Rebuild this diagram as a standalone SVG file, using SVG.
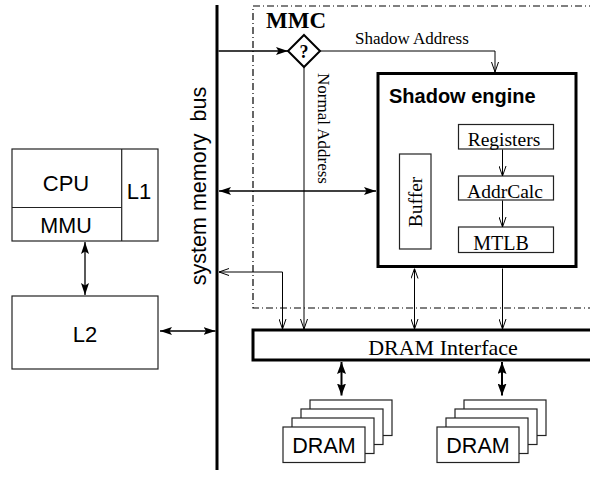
<svg xmlns="http://www.w3.org/2000/svg" width="590" height="477" viewBox="0 0 590 477">
<style>
.sans{font-family:"Liberation Sans",Arial,sans-serif;fill:#000}
.serif{font-family:"Liberation Serif","Times New Roman",serif;fill:#000}
.box{fill:#fff;stroke:#222;stroke-width:1.2}
.thick{fill:#fff;stroke:#000;stroke-width:3}
.thin{fill:none;stroke:#000;stroke-width:1}
.fat{fill:none;stroke:#000;stroke-width:1.3}
</style>
<defs>
<marker id="fa" viewBox="0 0 12 8" refX="12" refY="4" markerWidth="12" markerHeight="8" markerUnits="userSpaceOnUse" orient="auto-start-reverse">
<path d="M0,0 L12,4 L0,8 L2.5,4 z" fill="#000"/>
</marker>
<marker id="fb" viewBox="0 0 12 9" refX="12" refY="4.5" markerWidth="12" markerHeight="9" markerUnits="userSpaceOnUse" orient="auto-start-reverse">
<path d="M0,0 L12,4.5 L0,9 L2,4.5 z" fill="#000"/>
</marker>
<marker id="oa" viewBox="0 0 10 8" refX="10" refY="4" markerWidth="10" markerHeight="8" markerUnits="userSpaceOnUse" orient="auto-start-reverse">
<path d="M0,0.5 L10,4 L0,7.5" fill="none" stroke="#000" stroke-width="1"/>
</marker>
</defs>

<!-- system memory bus -->
<g id="bus">
<line x1="217" y1="5" x2="217" y2="470" stroke="#000" stroke-width="3"/>
<text class="sans" font-size="21.5" text-anchor="middle" transform="translate(206,186) rotate(-90)" style="white-space:pre">system memory  bus</text>
</g>

<!-- MMC region -->
<g id="mmc">
<path d="M596 6 H253 V308 H596" fill="none" stroke="#000" stroke-width="1.2" stroke-dasharray="7 3 1 3"/>
<text class="serif" font-size="23" font-weight="bold" x="266" y="28">MMC</text>
</g>

<g id="decision">
<polygon points="304,35 320,51 304,67 288,51" fill="#fff" stroke="#000" stroke-width="2"/>
<text class="serif" font-size="18" font-weight="bold" x="304" y="57.5" text-anchor="middle">?</text>
</g>

<g id="cpu">
<rect class="box" x="12" y="149" width="146" height="92"/>
<line x1="121.7" y1="149" x2="121.7" y2="241" stroke="#222" stroke-width="1.2"/>
<line x1="12" y1="207.5" x2="121.7" y2="207.5" stroke="#222" stroke-width="1.2"/>
<text class="sans" font-size="22" x="66" y="191" text-anchor="middle">CPU</text>
<text class="sans" font-size="21.5" x="66" y="232.5" text-anchor="middle">MMU</text>
<text class="sans" font-size="22" x="139" y="199" text-anchor="middle">L1</text>
</g>

<g id="l2">
<rect class="box" x="12" y="296" width="146" height="73"/>
<text class="sans" font-size="22" x="85" y="341.5" text-anchor="middle">L2</text>
</g>

<g id="shadow-engine">
<rect class="thick" x="378" y="73.5" width="198" height="193"/>
<text class="sans" font-size="20" font-weight="bold" x="389" y="103">Shadow engine</text>
</g>

<g id="buffer">
<rect class="box" x="399.5" y="154" width="31.5" height="95"/>
<text class="serif" font-size="19.5" text-anchor="middle" transform="translate(421.5,202) rotate(-90)">Buffer</text>
</g>

<g id="registers">
<rect class="box" x="458.5" y="124.5" width="95" height="24.5"/>
<text class="serif" font-size="19.5" x="504" y="146" text-anchor="middle">Registers</text>
</g>

<g id="addrcalc">
<rect class="box" x="458.5" y="176" width="95" height="24"/>
<text class="serif" font-size="19.5" x="505" y="197.5" text-anchor="middle">AddrCalc</text>
</g>

<g id="mtlb">
<rect class="box" x="458.5" y="227" width="95" height="25.5"/>
<text class="serif" font-size="20" x="501" y="250" text-anchor="middle">MTLB</text>
</g>

<g id="dram-interface">
<rect class="thick" x="253" y="330" width="345" height="30"/>
<text class="serif" font-size="22" x="443" y="354.5" text-anchor="middle">DRAM Interface</text>
</g>

<g id="dram1">
<rect class="box" x="310" y="400" width="82" height="35.5"/>
<rect class="box" x="301" y="409" width="82" height="35.5"/>
<rect class="box" x="292" y="418" width="82" height="35.5"/>
<rect class="box" x="283" y="427" width="82" height="35.5"/>
<text class="sans" font-size="21.5" x="324" y="453" text-anchor="middle">DRAM</text>
</g>

<g id="dram2">
<rect class="box" x="464" y="400" width="82" height="35.5"/>
<rect class="box" x="455" y="409" width="82" height="35.5"/>
<rect class="box" x="446" y="418" width="82" height="35.5"/>
<rect class="box" x="437" y="427" width="82" height="35.5"/>
<text class="sans" font-size="21.5" x="478" y="453" text-anchor="middle">DRAM</text>
</g>

<g id="connectors">
<line class="fat" x1="218.5" y1="51" x2="288" y2="51" marker-end="url(#fa)"/>
<path class="thin" d="M320 51 H495 V72" marker-end="url(#oa)"/>
<text class="serif" font-size="17" x="355" y="43.5">Shadow Address</text>
<line class="thin" x1="304" y1="67" x2="304" y2="329" marker-end="url(#oa)"/>
<text class="serif" font-size="17" transform="translate(318,73) rotate(90)">Normal Address</text>
<line class="fat" x1="219" y1="191" x2="376" y2="191" marker-start="url(#fa)" marker-end="url(#fa)"/>
<path class="thin" d="M219 272 H282.5 V329" marker-start="url(#oa)" marker-end="url(#oa)"/>
<line class="thin" x1="414.5" y1="268.5" x2="414.5" y2="329" marker-start="url(#oa)" marker-end="url(#oa)"/>
<line class="thin" x1="502.5" y1="268.5" x2="502.5" y2="329" marker-end="url(#oa)"/>
<line class="thin" x1="502.5" y1="149.5" x2="502.5" y2="176" marker-end="url(#oa)"/>
<line class="thin" x1="502.5" y1="200.5" x2="502.5" y2="227" marker-end="url(#oa)"/>
<line class="fat" x1="160" y1="331" x2="215.5" y2="331" marker-start="url(#fa)" marker-end="url(#fa)"/>
<line class="fat" x1="85" y1="242" x2="85" y2="295" marker-start="url(#fa)" marker-end="url(#fa)"/>
<line x1="341.5" y1="362" x2="341.5" y2="395.5" stroke="#000" stroke-width="2" marker-start="url(#fb)" marker-end="url(#fb)"/>
<line x1="502" y1="362" x2="502" y2="395.5" stroke="#000" stroke-width="2" marker-start="url(#fb)" marker-end="url(#fb)"/>
</g>
</svg>
